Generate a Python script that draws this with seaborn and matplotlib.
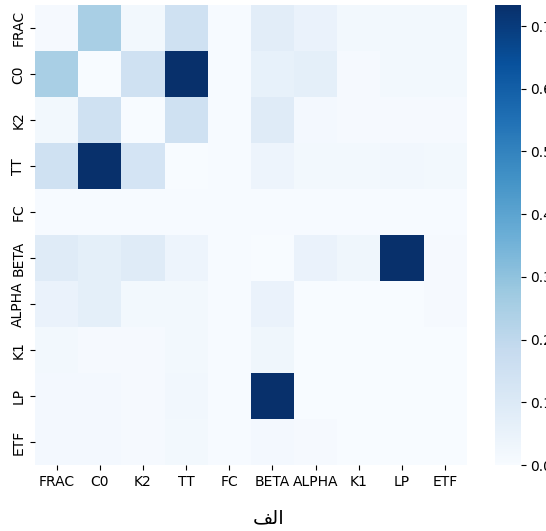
import numpy as np
import pandas as pd
import matplotlib
matplotlib.use("Agg")
import matplotlib.pyplot as plt
import seaborn as sns

labels = ["FRAC", "C0", "K2", "TT", "FC", "BETA", "ALPHA", "K1", "LP", "ETF"]

row_frac  = [0.010, 0.250, 0.020, 0.150, 0.005, 0.080, 0.050, 0.020, 0.020, 0.020]
row_c0    = [0.250, 0.000, 0.150, 0.733, 0.005, 0.060, 0.070, 0.010, 0.020, 0.020]
row_k2    = [0.020, 0.150, 0.000, 0.150, 0.005, 0.090, 0.015, 0.010, 0.010, 0.010]
row_tt    = [0.150, 0.733, 0.130, 0.000, 0.005, 0.040, 0.020, 0.020, 0.025, 0.020]
row_fc    = [0.005, 0.005, 0.005, 0.005, 0.005, 0.005, 0.005, 0.005, 0.005, 0.005]
row_beta  = [0.090, 0.070, 0.090, 0.040, 0.005, 0.000, 0.050, 0.030, 0.733, 0.010]
row_alpha = [0.050, 0.070, 0.020, 0.020, 0.005, 0.050, 0.000, 0.000, 0.000, 0.010]
row_k1    = [0.020, 0.010, 0.010, 0.020, 0.005, 0.030, 0.000, 0.000, 0.000, 0.000]
row_lp    = [0.015, 0.015, 0.010, 0.025, 0.005, 0.733, 0.000, 0.000, 0.000, 0.000]
row_etf   = [0.015, 0.015, 0.010, 0.020, 0.005, 0.015, 0.010, 0.000, 0.000, 0.000]

# x-axis title "الف" in shaped, visual (left-to-right) order
x_title = "\uFED2\uFEDF\u0627"

df = pd.DataFrame([row_frac, row_c0, row_k2, row_tt, row_fc, row_beta,
                   row_alpha, row_k1, row_lp, row_etf],
                  index=labels, columns=labels)

fig = plt.figure(figsize=(5.46, 5.31), dpi=100)
ax = fig.add_axes([0.064, 0.124, 0.791, 0.866])
cax = fig.add_axes([0.906, 0.124, 0.048, 0.866])
sns.heatmap(df, cmap="Blues", vmin=0, ax=ax, cbar_ax=cax)
ax.set_xlabel(x_title, fontsize=14, family=["DejaVu Sans"])
ax.xaxis.set_label_coords(0.54, -0.095)
ax.set_ylabel("")
ax.tick_params(axis="x", rotation=0)
fig.savefig("out.png", dpi=100)
